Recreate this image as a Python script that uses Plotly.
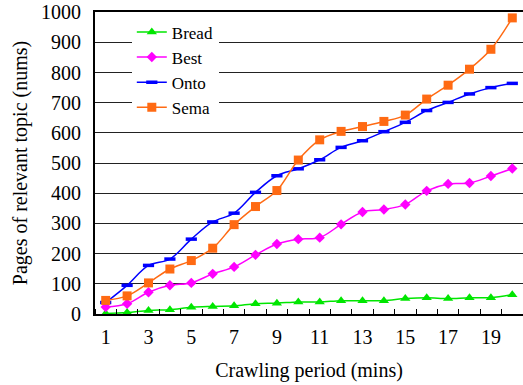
import plotly.graph_objects as go

periods = list(range(1, 21))
tick_labels = [1, 3, 5, 7, 9, 11, 13, 15, 17, 19]

bread = [2, 5, 12, 14, 22, 25, 27, 34, 36, 40, 40, 44, 44, 44, 51, 54, 51, 54, 54, 64]
best = [23, 34, 72, 95, 103, 133, 156, 196, 232, 248, 253, 297, 338, 346, 363, 408, 431, 434, 457, 482]
onto = [38, 95, 161, 182, 248, 305, 334, 403, 458, 481, 511, 552, 574, 604, 635, 674, 701, 729, 750, 764]
sema = [45, 60, 103, 149, 177, 218, 296, 356, 409, 510, 577, 605, 621, 638, 659, 712, 758, 811, 877, 981]

FONT = "Liberation Serif"

fig = go.Figure()
fig.add_trace(go.Scatter(x=periods, y=bread, name="Bread", mode="lines+markers",
                         line=dict(color="#00e600", width=1.5, shape="spline"),
                         marker=dict(symbol="triangle-up", size=9, color="#00e600")))
fig.add_trace(go.Scatter(x=periods, y=best, name="Best", mode="lines+markers",
                         line=dict(color="#ff00ff", width=1.5, shape="spline"),
                         marker=dict(symbol="diamond", size=8, color="#ff00ff")))
fig.add_trace(go.Scatter(x=periods, y=onto, name="Onto", mode="lines+markers",
                         line=dict(color="#0000ff", width=1.5, shape="spline"),
                         marker=dict(symbol="line-ew", size=8, color="#0000ff",
                                     line=dict(color="#0000ff", width=3.5))))
fig.add_trace(go.Scatter(x=periods, y=sema, name="Sema", mode="lines+markers",
                         line=dict(color="#ff6a13", width=1.5, shape="spline"),
                         marker=dict(symbol="square", size=9, color="#ff6a13")))

fig.update_layout(
    width=523, height=385,
    margin=dict(l=95, r=0, t=12, b=71, autoexpand=False),
    paper_bgcolor="white", plot_bgcolor="white",
    font=dict(family=FONT, size=20, color="black"),
    showlegend=True,
    legend=dict(x=0.086, y=0.992, xanchor="left", yanchor="top",
                bgcolor="white", borderwidth=0,
                font=dict(family=FONT, size=17),
                tracegroupgap=0, itemwidth=30),
    xaxis=dict(range=[0.5, 20.5], tickmode="array", tickvals=tick_labels,
               ticktext=[str(t) for t in tick_labels], ticks="",
               showgrid=False, zeroline=False, automargin=False,
               showline=True, linecolor="black", linewidth=2, mirror=True,
               ticklabelstandoff=4,
               tickfont=dict(family=FONT, size=20),
               minor=dict(tick0=0.5, dtick=1, ticks="inside", ticklen=5,
                          tickcolor="black", tickwidth=1, showgrid=False),
               title=dict(text="Crawling period (mins)", standoff=16,
                          font=dict(family=FONT, size=20))),
    yaxis=dict(range=[0, 1000.5], tickmode="linear", tick0=0, dtick=100,
               showgrid=True, gridcolor="#222222", gridwidth=1,
               zeroline=False, showline=True, linecolor="black", linewidth=2,
               automargin=False,
               ticks="", ticklabelstandoff=8, ticklabeloverflow="allow",
               tickfont=dict(family=FONT, size=20),
               title=dict(text="Pages of relevant topic (nums)", standoff=8,
                          font=dict(family=FONT, size=20))),
)

fig.write_html("out.html", config={"displayModeBar": False},
               post_script="document.body.style.margin='0';document.body.style.padding='0';")
